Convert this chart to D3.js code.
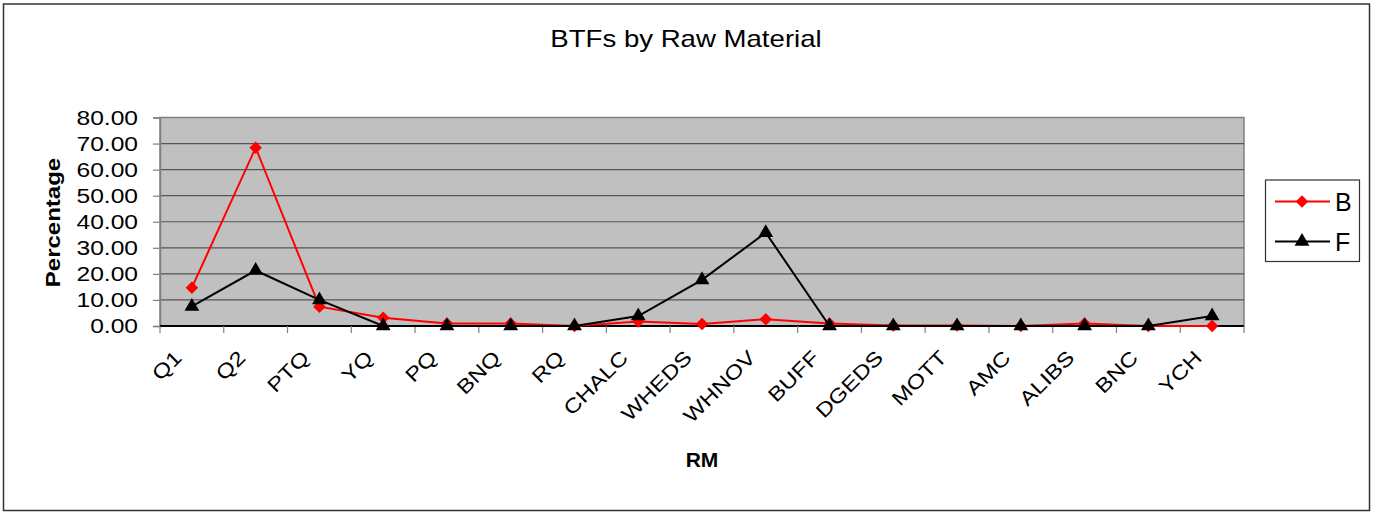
<!DOCTYPE html>
<html>
<head>
<meta charset="utf-8">
<script src="https://cdn.jsdelivr.net/npm/d3@7"></script>
<style>
  html, body { margin: 0; padding: 0; background: #fff; }
  svg { display: block; font-family: "Liberation Sans", Arial, sans-serif; }
</style>
</head>
<body>
<svg id="chart" width="1373" height="512"></svg>
<script>
// Raw material categories along the x axis
const categories = ["Q1", "Q2", "PTQ", "YQ", "PQ", "BNQ", "RQ", "CHALC", "WHEDS",
  "WHNOV", "BUFF", "DGEDS", "MOTT", "AMC", "ALIBS", "BNC", "YCH"];

// Percentage values per series
const seriesB = [14.7, 68.4, 7.4, 3.2, 1.0, 1.0, 0.0, 1.7, 0.8, 2.6, 1.0, 0.2, 0.2, 0.0, 1.0, 0.0, 0.0];
const seriesF = [7.5, 21.3, 10.0, 0.0, 0.0, 0.0, 0.0, 3.8, 17.7, 35.8, 0.0, 0.0, 0.0, 0.0, 0.0, 0.0, 3.8];

const yTicks = [0, 10, 20, 30, 40, 50, 60, 70, 80];
const titleText = "BTFs by Raw Material";
const xTitle = "RM";
const yTitle = "Percentage";

// Text in this chart uses a slightly widened face
const WIDE = 1.2;

const svg = d3.select("#chart");

// Outer chart frame
svg.append("rect")
  .attr("x", 3.5).attr("y", 4).attr("width", 1366).attr("height", 506.5)
  .attr("fill", "#fff").attr("stroke", "#333").attr("stroke-width", 1.5);

const plot = { left: 160, right: 1244, top: 117.5, bottom: 326 };

const x = d3.scaleBand().domain(categories).range([plot.left, plot.right]);
const y = d3.scaleLinear().domain([0, 80]).range([plot.bottom, plot.top]);
const cx = d => x(d) + x.bandwidth() / 2;

// Plot background
svg.append("rect")
  .attr("x", plot.left).attr("y", plot.top)
  .attr("width", plot.right - plot.left).attr("height", plot.bottom - plot.top)
  .attr("fill", "#c0c0c0").attr("stroke", "#808080").attr("stroke-width", 1.5);

// Horizontal gridlines
svg.append("g").selectAll("line")
  .data(yTicks.filter(t => t > 0 && t < 80))
  .join("line")
  .attr("x1", plot.left).attr("x2", plot.right)
  .attr("y1", d => y(d)).attr("y2", d => y(d))
  .attr("stroke", "#555").attr("stroke-width", 1.2);

// Y axis
const yAxis = d3.axisLeft(y).tickValues(yTicks).tickFormat(d3.format(".2f"))
  .tickSize(7).tickPadding(0);
const gy = svg.append("g").attr("transform", `translate(${plot.left},0)`).call(yAxis);
gy.select(".domain").attr("stroke", "#808080").attr("stroke-width", 1.5);
gy.selectAll(".tick line").attr("stroke", "#808080").attr("stroke-width", 1.2);
gy.selectAll(".tick text")
  .attr("x", null)
  .attr("transform", `translate(-22,0) scale(${WIDE},1)`)
  .attr("font-size", 20.5).attr("fill", "#000")
  .attr("font-family", "Liberation Sans, Arial, sans-serif");

// X axis: ticks on category boundaries
const gx = svg.append("g").attr("transform", `translate(0,${plot.bottom})`);
gx.append("line").attr("x1", plot.left).attr("x2", plot.right)
  .attr("y1", 0).attr("y2", 0).attr("stroke", "#000").attr("stroke-width", 2);
const bounds = categories.map(c => x(c)).concat([plot.right]);
gx.selectAll("line.tick").data(bounds).join("line").attr("class", "tick")
  .attr("x1", d => d).attr("x2", d => d).attr("y1", 0).attr("y2", 7)
  .attr("stroke", "#808080").attr("stroke-width", 1.2);
gx.selectAll("text").data(categories).join("text")
  .attr("transform", d => `translate(${cx(d) - 9},${33}) rotate(-45) scale(${WIDE},1)`)
  .attr("text-anchor", "end")
  .attr("font-size", 20).attr("fill", "#000")
  .text(d => d);

// Titles
svg.append("text").attr("transform", `translate(686,46.5) scale(${WIDE},1)`)
  .attr("text-anchor", "middle")
  .attr("font-size", 23).attr("fill", "#000").text(titleText);
svg.append("text").attr("x", 702).attr("y", 467).attr("text-anchor", "middle")
  .attr("font-size", 21).attr("font-weight", "bold").attr("fill", "#000").text(xTitle);
svg.append("text").attr("transform", `translate(60,222.5) rotate(-90) scale(${WIDE},1)`)
  .attr("text-anchor", "middle")
  .attr("font-size", 20).attr("font-weight", "bold").attr("fill", "#000").text(yTitle);

// Series lines and markers
const line = d3.line().x((d, i) => cx(categories[i])).y(d => y(d));
const diamond = d3.symbol().type(d3.symbolDiamond2).size(100);
const triangle = d3.symbol().type(d3.symbolTriangle).size(95);

function drawSeries(values, color, sym) {
  const g = svg.append("g");
  g.append("path").datum(values).attr("d", line)
    .attr("fill", "none").attr("stroke", color).attr("stroke-width", 2);
  g.selectAll("path.m").data(values).join("path").attr("class", "m")
    .attr("transform", (d, i) => `translate(${cx(categories[i])},${y(d)})`)
    .attr("d", sym).attr("fill", color);
}
drawSeries(seriesB, "#ff0000", diamond);
drawSeries(seriesF, "#000000", triangle);

// Legend
const lg = svg.append("g");
lg.append("rect").attr("x", 1265.5).attr("y", 180).attr("width", 94).attr("height", 81.5)
  .attr("fill", "#fff").attr("stroke", "#333").attr("stroke-width", 1.2);
const legendItems = [
  { name: "B", color: "#ff0000", sym: diamond, y: 201.5 },
  { name: "F", color: "#000000", sym: triangle, y: 241.5 }
];
legendItems.forEach(it => {
  lg.append("line").attr("x1", 1275).attr("x2", 1330).attr("y1", it.y).attr("y2", it.y)
    .attr("stroke", it.color).attr("stroke-width", 2);
  lg.append("path").attr("transform", `translate(1302,${it.y})`).attr("d", it.sym).attr("fill", it.color);
  lg.append("text").attr("x", 1335).attr("y", it.y + 9).attr("font-size", 25)
    .attr("fill", "#000").text(it.name);
});
</script>
</body>
</html>
